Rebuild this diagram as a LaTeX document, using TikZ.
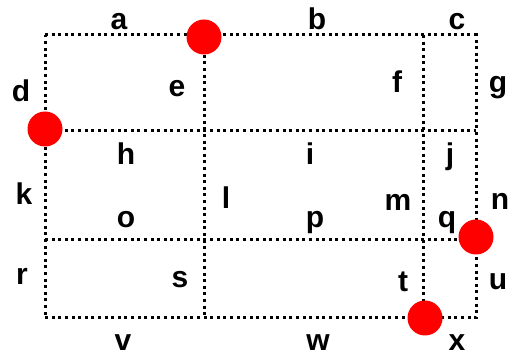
\documentclass[tikz,border=0pt]{standalone}
\usepackage{fontspec}
\setmainfont{Liberation Sans}
\usetikzlibrary{positioning}

\begin{document}
\begin{tikzpicture}[x=1pt,y=-1pt,
grid/.style={line width=3pt,dash pattern=on 3pt off 3.6pt},
lbl/.style={font=\fontsize{30}{30}\selectfont\bfseries,inner sep=0pt,anchor=base},
spot/.style={circle,fill=red,minimum size=35pt,inner sep=0pt}]
\useasboundingbox (0,0) rectangle (509,352);
% grid corners
\coordinate (tl) at (45,35);\coordinate (tr) at (476,35);
\coordinate (bl) at (45,318);\coordinate (br) at (476,318);
\coordinate (x1t) at (204,35);\coordinate (x1b) at (204,318);
\coordinate (x2t) at (423,35);\coordinate (x2b) at (423,318);
\coordinate (y1l) at (45,131);\coordinate (y1r) at (476,131);
\coordinate (y2l) at (45,240);\coordinate (y2r) at (476,240);
\draw[grid](tl)--(tr)--(br)--(bl)--cycle;
\draw[grid](x1t)--(x1b);\draw[grid](x2t)--(x2b);
\draw[grid](y1l)--(y1r);\draw[grid](y2l)--(y2r);
% labels
\node[lbl](a) at (119,30){a};\node[lbl](b) at (317,30){b};\node[lbl](c) at (457,30){c};
\node[lbl](d) at (21,102){d};\node[lbl](e) at (177,97){e};\node[lbl](f) at (397,93){f};\node[lbl](g) at (498,93){g};
\node[lbl](h) at (126,165){h};\node[lbl](i) at (310,165){i};\node[lbl](j) at (450,165){j};
\node[lbl](k) at (24,205){k};\node[lbl](l) at (226,209){l};\node[lbl](m) at (398,211){m};\node[lbl](n) at (500,210){n};
\node[lbl](o) at (126,228){o};\node[lbl](p) at (315,228){p};\node[lbl](q) at (447,228){q};
\node[lbl](r) at (22,285){r};\node[lbl](s) at (180,288){s};\node[lbl](t) at (403,292){t};\node[lbl](u) at (498,290){u};
\node[lbl](v) at (123,351){v};\node[lbl](w) at (318,351){w};\node[lbl](x) at (457,351){x};
% red spots
\node[spot](s1) at (204,37){};
\node[spot](s2) at (45,129){};
\node[spot](s3) at (476,237){};
\node[spot](s4) at (425,318){};
\end{tikzpicture}
\end{document}
